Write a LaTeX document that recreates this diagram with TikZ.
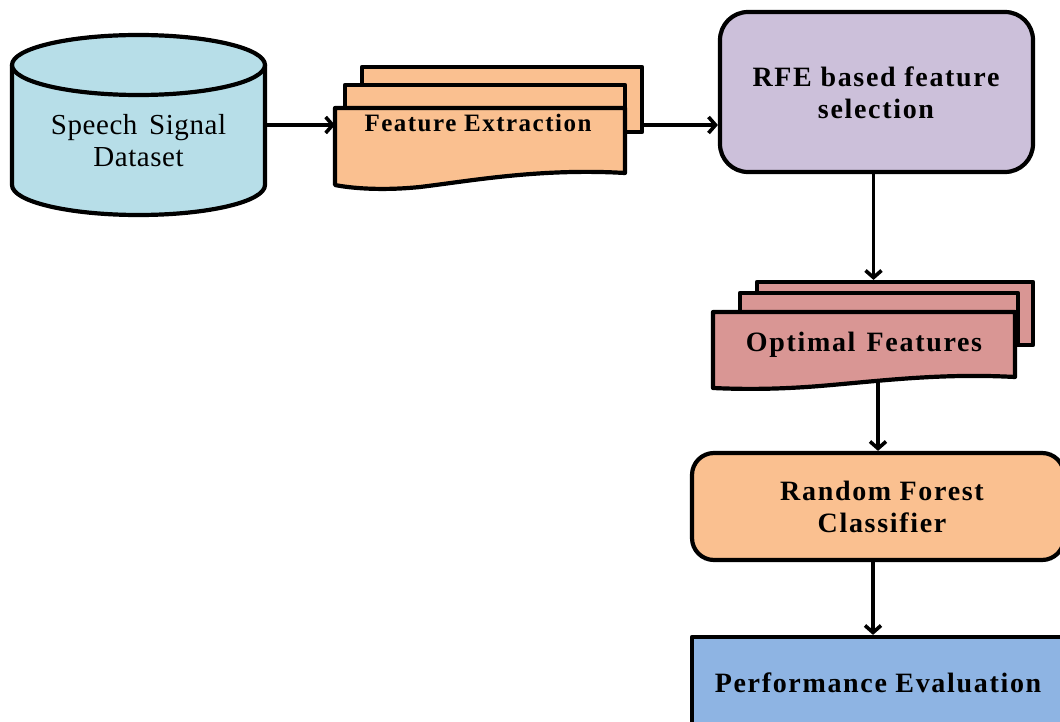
\documentclass[tikz,border=0pt]{standalone}
\usepackage{fontspec}
\setmainfont{Liberation Serif}
\usetikzlibrary{arrows.meta}
\definecolor{cylc}{HTML}{B7DEE8}
\definecolor{fec}{HTML}{FAC090}
\definecolor{rfec}{HTML}{CCC0DA}
\definecolor{optc}{HTML}{D99694}
\definecolor{pec}{HTML}{8EB4E3}
\begin{document}
\begin{tikzpicture}[x=1pt,y=-1pt,line join=round,
  box/.style={draw=black,line width=4.2pt},
  ghost/.style={inner sep=0pt,outer sep=0pt},
  arr/.style={line width=3.6pt,-{Straight Barb[length=7pt,width=16pt,line width=3.6pt]}},
  bt/.style={font=\fontsize{28}{32}\selectfont\bfseries\addfontfeatures{LetterSpace=6},align=center,inner sep=0pt},
  rt/.style={font=\fontsize{29}{32}\selectfont\addfontfeatures{LetterSpace=2},align=center,inner sep=0pt}]
\useasboundingbox (0,0) rectangle (1060,722);
\clip (0,0) rectangle (1060,722);

% cylinder
\path[box,fill=cylc] (12,65) -- (12,185)
  .. controls (12,201.57) and (68.63,215) .. (138.5,215)
  .. controls (208.37,215) and (265,201.57) .. (265,185) -- (265,65) -- cycle;
\path[box,fill=cylc] (138.5,65) ellipse [x radius=126.5,y radius=30];
\node[ghost,minimum width=253pt,minimum height=180pt] (ds) at (138.5,125) {};
\node[rt] (dst) at (138.5,141) {Speech\hspace{0.4em}Signal\\Dataset};

% feature extraction stack
\node[box,fill=fec,minimum width=280pt,minimum height=65pt] (feb) at (502,99.5) {};
\node[box,fill=fec,minimum width=280pt,minimum height=55pt] (fem) at (485,112.5) {};
\path[box,fill=fec] (335,108) -- (625,108) -- (625,173)
  .. controls (540,168) and (470,181) .. (420,187)
  .. controls (380,191) and (350,188) .. (335,185) -- cycle;
\node[ghost,minimum width=290pt,minimum height=77pt] (fef) at (480,146.5) {};
\node[bt,font=\fontsize{25}{30}\selectfont\bfseries\addfontfeatures{LetterSpace=6}] (fet) at (478,123) {Feature Extraction};

% RFE
\node[box,fill=rfec,rounded corners=28pt,minimum width=313pt,minimum height=160pt] (rfe) at (876.5,92) {};
\node[bt] (rfet) at (876,93) {RFE based feature\\selection};

% optimal features stack
\node[box,fill=optc,minimum width=276pt,minimum height=63pt] (opb) at (895,313.5) {};
\node[box,fill=optc,minimum width=278pt,minimum height=50pt] (opm) at (879,318) {};
\path[box,fill=optc] (713,312) -- (1015,312) -- (1015,377)
  .. controls (940,373) and (880,381) .. (820,386)
  .. controls (770,390) and (735,389) .. (713,388) -- cycle;
\node[ghost,minimum width=302pt,minimum height=68pt] (opf) at (864,346) {};
\node[bt] (opt) at (864,345) {Optimal\hspace{0.4em}Features};

% random forest
\node[box,fill=fec,rounded corners=22pt,minimum width=372pt,minimum height=107pt] (rf) at (878,506.5) {};
\node[bt] (rft) at (882,507) {Random\hspace{0.3em}Forest\\Classifier};

% performance evaluation
\node[box,fill=pec,minimum width=372pt,minimum height=120pt] (pe) at (878,697) {};
\node[bt] (pet) at (878,683) {Performance\hspace{0.3em}Evaluation};

% connectors
\draw[arr] (ds.east) -- (ds.east -| fef.west);
\draw[arr] (feb.east |- ds.east) -- (rfe.west |- ds.east);
\draw[arr] ([xshift=-3pt]rfe.south) -- ([xshift=-3pt]rfe.south |- opb.north);
\draw[arr] (opf.south) ++(14,0) -- ([xshift=14pt]opf.south |- rf.north);
\draw[arr] ([xshift=-5pt]rf.south) -- ([xshift=-5pt]rf.south |- pe.north);
\end{tikzpicture}
\end{document}
